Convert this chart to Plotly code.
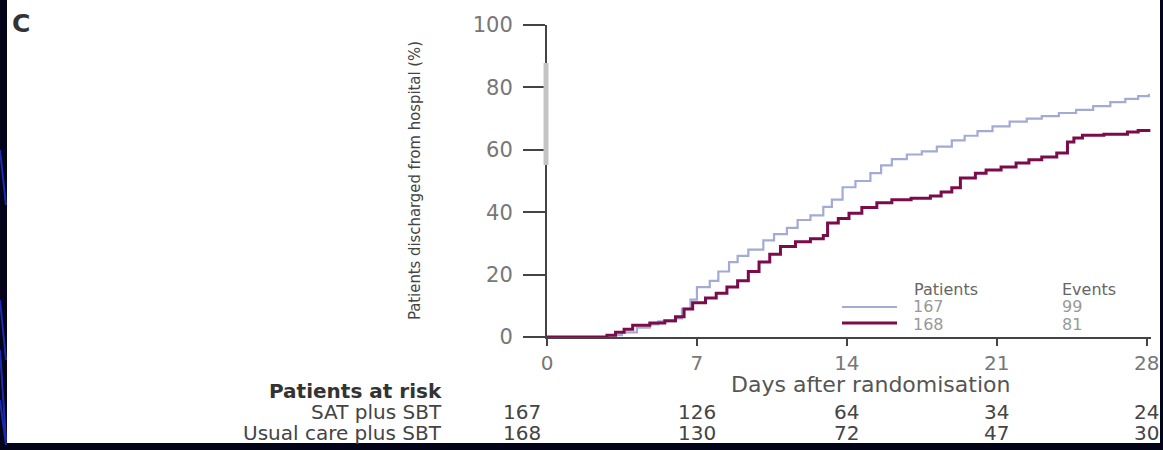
import plotly.graph_objects as go

# ---- data ----
sat_days = [0, 2.8, 3.5, 4.2, 4.8, 5.2, 6.0, 6.3, 6.7, 7.0, 7.6, 8.0, 8.5, 8.9, 9.4, 10.1, 10.6,
            11.2, 11.7, 12.3, 12.9, 13.3, 13.8, 14.4, 15.1, 15.6, 16.1, 16.8, 17.5, 18.2, 18.9,
            19.5, 20.1, 20.8, 21.6, 22.4, 23.1, 23.9, 24.7, 25.5, 26.3, 27.0, 27.6, 28.1]
sat_pct = [0, 0.6, 1.5, 3, 4, 5, 6, 9, 12, 16, 18, 21, 24, 26, 28, 31, 33,
           35, 37.5, 39, 41.7, 44, 48, 50, 52.5, 55, 57, 58.5, 59.5, 61, 63,
           64.5, 66, 67.5, 69, 70, 70.8, 71.8, 72.8, 74, 75.3, 76.3, 77.2, 78]

usual_days = [0, 2.8, 3.2, 3.6, 4.0, 4.8, 5.5, 6.0, 6.4, 6.8, 7.4, 7.9, 8.4, 8.9, 9.4, 9.9,
              10.4, 10.9, 11.6, 12.3, 12.9, 13.1, 13.6, 14.1, 14.7, 15.4, 16.1, 17.0, 17.9,
              18.4, 18.9, 19.3, 20.0, 20.5, 21.2, 21.9, 22.5, 23.1, 23.8, 24.3, 24.6, 25.0,
              26.0, 27.1, 27.6, 28.1]
usual_pct = [0, 0.6, 1.5, 2.5, 3.8, 4.5, 5.2, 6.5, 9, 11, 12.5, 14, 16, 18, 21, 24,
             26.5, 29, 30.5, 31.5, 32.5, 36.5, 38, 39.7, 41.5, 43, 44, 44.5, 45.2,
             46.5, 47.8, 51, 52.5, 53.5, 54.5, 55.8, 56.8, 57.7, 59, 62.5, 63.8, 64.7,
             65, 65.7, 66.2, 66.7]

risk_days = [0, 7, 14, 21, 28]
risk_sat = [167, 126, 64, 34, 24]
risk_usual = [168, 130, 72, 47, 30]
group_labels = ["SAT plus SBT", "Usual care plus SBT"]
legend_patients = ["167", "168"]
legend_events = ["99", "81"]
y_ticks = [0, 20, 40, 60, 80, 100]
x_ticks = [0, 7, 14, 21, 28]

BLUE = "#a3aad3"
MAG = "#7a0c4c"
FONT = "DejaVu Sans"

# geometry (pixels)
W, H = 1163, 450
L, T = 547, 25
PW = 604
PH = 312
R = W - L - PW
B = H - T - PH

def px(xp):
    return (xp - L) / PW

def py(yp):
    return (T + PH - yp) / PH

fig = go.Figure()
fig.add_trace(go.Scatter(x=sat_days, y=sat_pct, mode="lines", line_shape="hv",
                         line=dict(color=BLUE, width=2.2), showlegend=False))
fig.add_trace(go.Scatter(x=usual_days, y=usual_pct, mode="lines", line_shape="hv",
                         line=dict(color=MAG, width=3), showlegend=False))

shapes = []
# white panel over dark page background
shapes.append(dict(type="rect", xref="paper", yref="paper", layer="below",
                   x0=px(7), x1=px(1160), y0=py(443), y1=py(-5),
                   fillcolor="white", line=dict(width=0)))
# blue streaks on left edge
for (y0, y1) in [(150, 205), (300, 360), (350, 440), (400, 445)]:
    shapes.append(dict(type="line", xref="paper", yref="paper", layer="below",
                       x0=px(0), x1=px(6), y0=py(y0), y1=py(y1),
                       line=dict(color="#1b2bb0", width=2)))
# grey artifact on y axis
shapes.append(dict(type="line", xref="paper", yref="paper",
                   x0=px(546), x1=px(546), y0=py(63), y1=py(165),
                   line=dict(color="#c4c4c4", width=5)))
# legend lines
shapes.append(dict(type="line", xref="paper", yref="paper",
                   x0=px(842), x1=px(897), y0=py(307), y1=py(307),
                   line=dict(color=BLUE, width=2.2)))
shapes.append(dict(type="line", xref="paper", yref="paper",
                   x0=px(842), x1=px(897), y0=py(323), y1=py(323),
                   line=dict(color=MAG, width=3)))

ann = []
ann.append(dict(text="<b>C</b>", x=px(10), y=py(23), xref="paper", yref="paper",
                xanchor="left", yanchor="middle", showarrow=False,
                font=dict(family=FONT, size=25, color="#333")))
ann.append(dict(text="Patients discharged from hospital (%)", textangle=-90,
                x=px(414), y=py(181), xref="paper", yref="paper",
                xanchor="center", yanchor="middle", showarrow=False,
                font=dict(family="Liberation Sans Narrow, DejaVu Sans Condensed, Roboto", size=16.5, color="#444")))
ann.append(dict(text="Days after randomisation", x=px(870), y=py(384), xref="paper", yref="paper",
                xanchor="center", yanchor="middle", showarrow=False,
                font=dict(family=FONT, size=22, color="#555")))
ann.append(dict(text="<b>Patients at risk</b>", x=px(444), y=py(391), xref="paper", yref="paper",
                xanchor="right", yanchor="middle", showarrow=False,
                font=dict(family=FONT, size=20, color="#333")))
for lab, yy in zip(group_labels, [412, 433]):
    ann.append(dict(text=lab, x=px(444), y=py(yy), xref="paper", yref="paper",
                    xanchor="right", yanchor="middle", showarrow=False,
                    font=dict(family=FONT, size=20, color="#444")))
for row, yy in zip([risk_sat, risk_usual], [412, 433]):
    for d, v in zip(risk_days, row):
        ann.append(dict(text=str(v), x=d, y=py(yy), xref="x", yref="paper",
                        xanchor="center", yanchor="middle", showarrow=False,
                        xshift=-25 if d == 0 else 0,
                        font=dict(family=FONT, size=20, color="#444")))
# legend table
ann.append(dict(text="Patients", x=px(912), y=py(289), xref="paper", yref="paper",
                xanchor="left", yanchor="middle", showarrow=False,
                font=dict(family=FONT, size=16, color="#666")))
ann.append(dict(text="Events", x=px(1060), y=py(289), xref="paper", yref="paper",
                xanchor="left", yanchor="middle", showarrow=False,
                font=dict(family=FONT, size=16, color="#666")))
for p, e, yy in zip(legend_patients, legend_events, [306, 324]):
    ann.append(dict(text=p, x=px(911), y=py(yy), xref="paper", yref="paper",
                    xanchor="left", yanchor="middle", showarrow=False,
                    font=dict(family=FONT, size=16, color="#999")))
    ann.append(dict(text=e, x=px(1060), y=py(yy), xref="paper", yref="paper",
                    xanchor="left", yanchor="middle", showarrow=False,
                    font=dict(family=FONT, size=16, color="#999")))

fig.update_layout(
    width=W, height=H,
    margin=dict(l=L, r=R, t=T, b=B, pad=0, autoexpand=False),
    paper_bgcolor="#03031a", plot_bgcolor="white",
    shapes=shapes, annotations=ann, showlegend=False,
)
fig.update_xaxes(range=[0, 28.2], tickvals=x_ticks, ticks="outside", ticklen=7, tickwidth=2,
                 tickcolor="#444", showline=True, linecolor="#444", linewidth=2,
                 showgrid=False, zeroline=False, automargin=False,
                 tickfont=dict(family=FONT, size=20, color="#777"))
fig.update_yaxes(range=[0, 100], tickvals=y_ticks, ticks="outside", ticklen=22, tickwidth=2,
                 tickcolor="#444", showline=True, linecolor="#444", linewidth=2,
                 showgrid=False, zeroline=False, ticklabelstandoff=6, automargin=False,
                 tickfont=dict(family=FONT, size=21, color="#777"))

fig.write_html("out.html", config={"displayModeBar": False},
               post_script="document.body.style.margin='0';document.body.style.overflow='hidden';")
